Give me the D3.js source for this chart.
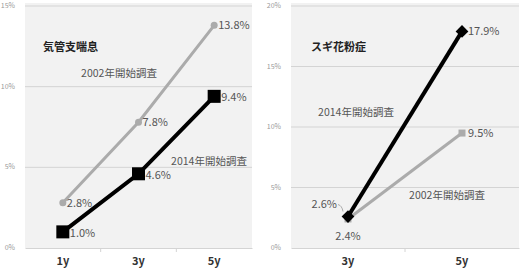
<!DOCTYPE html>
<html>
<head>
<meta charset="utf-8">
<script src="https://cdn.jsdelivr.net/npm/d3@7"></script>
<style>
  body { margin: 0; background: #fff; }
  svg { font-family: "Noto Sans CJK JP", "Noto Sans", sans-serif; }
</style>
</head>
<body>
<div id="chart"></div>
<script>
// data
const leftCats = ["1y", "3y", "5y"];
const leftGray = [2.8, 7.8, 13.8];   // 2002年開始調査
const leftBlack = [1.0, 4.6, 9.4];   // 2014年開始調査
const leftTicks = [0, 5, 10, 15];

const rightCats = ["3y", "5y"];
const rightGray = [2.4, 9.5];        // 2002年開始調査
const rightBlack = [2.6, 17.9];      // 2014年開始調査
const rightTicks = [0, 5, 10, 15, 20];

const svg = d3.select("#chart")
    .append("svg")
    .attr("width", 520)
    .attr("height", 271);

function panel(cfg) {
    const x = d3.scaleBand().domain(cfg.cats).range([cfg.x0, cfg.x1]);
    const y = d3.scaleLinear().domain([0, cfg.max]).range([248, 6]);
    const g = svg.append("g");

    // plot background
    g.append("rect")
        .attr("x", cfg.x0).attr("y", 3)
        .attr("width", cfg.x1 - cfg.x0).attr("height", 245)
        .attr("fill", "#f2f2f2");

    // gridlines
    g.selectAll(".grid").data(cfg.ticks.slice(1)).enter()
        .append("line")
        .attr("x1", cfg.x0).attr("x2", cfg.x1)
        .attr("y1", d => y(d)).attr("y2", d => y(d))
        .attr("stroke", "#d4d4d4").attr("stroke-width", 1);

    // y tick labels
    g.selectAll(".ytick").data(cfg.ticks).enter()
        .append("text")
        .attr("x", cfg.x0 - 10)
        .attr("y", d => y(d) + 2)
        .attr("text-anchor", "end")
        .attr("font-size", 7)
        .attr("fill", "#999")
        .text(d => d + "%");

    // x axis
    const ax = g.append("g")
        .attr("transform", "translate(0,248)")
        .call(d3.axisBottom(x).tickSize(0).tickPadding(9));
    ax.select(".domain").attr("stroke", "#d4d4d4");
    ax.selectAll("text")
        .attr("font-size", 11).attr("font-weight", "bold")
        .attr("fill", "#333")
        .attr("font-family", "'Noto Sans CJK JP', sans-serif");
    // separators between categories
    g.selectAll(".sep").data(cfg.cats.slice(1)).enter()
        .append("line")
        .attr("x1", d => x(d)).attr("x2", d => x(d))
        .attr("y1", 248).attr("y2", 252)
        .attr("stroke", "#d4d4d4");

    const cx = (d, i) => x(cfg.cats[i]) + x.bandwidth() / 2;
    const line = d3.line().x((d, i) => cx(d, i)).y(d => y(d));

    // gray series
    g.append("path").datum(cfg.gray)
        .attr("d", line).attr("fill", "none")
        .attr("stroke", "#ababab").attr("stroke-width", 3);
    // black series
    g.append("path").datum(cfg.black)
        .attr("d", line).attr("fill", "none")
        .attr("stroke", "#000").attr("stroke-width", 4);

    // markers
    if (cfg.grayShape === "circle") {
        g.selectAll(".gm").data(cfg.gray).enter().append("circle")
            .attr("cx", cx).attr("cy", d => y(d)).attr("r", 3.5)
            .attr("fill", "#ababab");
    } else {
        g.selectAll(".gm").data(cfg.gray).enter().append("rect")
            .attr("x", (d, i) => cx(d, i) - 3.5).attr("y", d => y(d) - 3.5)
            .attr("width", 7).attr("height", 7)
            .attr("fill", "#ababab");
    }
    if (cfg.blackShape === "square") {
        g.selectAll(".bm").data(cfg.black).enter().append("rect")
            .attr("x", (d, i) => cx(d, i) - 6.5).attr("y", d => y(d) - 6.5)
            .attr("width", 13).attr("height", 13)
            .attr("fill", "#000");
    } else {
        g.selectAll(".bm").data(cfg.black).enter().append("path")
            .attr("transform", (d, i) => "translate(" + cx(d, i) + "," + y(d) + ") rotate(45)")
            .attr("d", "M-4.5,-4.5H4.5V4.5H-4.5Z")
            .attr("fill", "#000");
    }

    // title
    g.append("text")
        .attr("x", cfg.titleX).attr("y", 51)
        .attr("font-size", 11).attr("font-weight", "bold")
        .attr("fill", "#222")
        .text(cfg.title);

    // series labels
    cfg.notes.forEach(n => {
        g.append("text")
            .attr("x", n.x).attr("y", n.y)
            .attr("text-anchor", "middle")
            .attr("font-size", 10.5).attr("fill", "#555")
            .text(n.t);
    });

    return {x: x, y: y, g: g, cx: cx};
}

function fmt(v) { return v.toFixed(1) + "%"; }

function addLabels(p, vals, offs) {
    p.g.selectAll(null).data(vals).enter().append("text")
        .attr("x", (d, i) => p.cx(d, i) + offs[i][0])
        .attr("y", (d, i) => p.y(d) + offs[i][1])
        .attr("font-size", 11).attr("fill", "#555")
        .text(fmt);
}

// left: 気管支喘息
const L = panel({
    cats: leftCats, x0: 25, x1: 252, max: 15, ticks: leftTicks,
    gray: leftGray, black: leftBlack,
    grayShape: "circle", blackShape: "square",
    title: "気管支喘息", titleX: 43,
    notes: [{t: "2002年開始調査", x: 119, y: 77}, {t: "2014年開始調査", x: 209, y: 165}]
});
addLabels(L, leftGray, [[4, 4], [4, 4], [4, 4]]);
addLabels(L, leftBlack, [[7, 5], [7, 5], [7, 5]]);

// right: スギ花粉症
const R = panel({
    cats: rightCats, x0: 291, x1: 519, max: 20, ticks: rightTicks,
    gray: rightGray, black: rightBlack,
    grayShape: "square", blackShape: "diamond",
    title: "スギ花粉症", titleX: 311,
    notes: [{t: "2014年開始調査", x: 356, y: 116}, {t: "2002年開始調査", x: 447, y: 199}]
});
// 5y labels
R.g.append("text").attr("x", R.cx(0, 1) + 6).attr("y", R.y(rightBlack[1]) + 4)
    .attr("font-size", 11).attr("fill", "#555").text(fmt(rightBlack[1]));
R.g.append("text").attr("x", R.cx(0, 1) + 6).attr("y", R.y(rightGray[1]) + 4)
    .attr("font-size", 11).attr("fill", "#555").text(fmt(rightGray[1]));
// 3y labels
R.g.append("text").attr("x", R.cx(0, 0) - 11).attr("y", R.y(rightBlack[0]) - 9)
    .attr("text-anchor", "end")
    .attr("font-size", 11).attr("fill", "#555").text(fmt(rightBlack[0]));
R.g.append("path")
    .attr("d", "M" + (R.cx(0, 0) - 10) + "," + (R.y(rightBlack[0]) - 12) +
        " q4,1 5,7")
    .attr("fill", "none").attr("stroke", "#999").attr("stroke-width", 0.8);
R.g.append("text").attr("x", R.cx(0, 0)).attr("y", R.y(rightGray[0]) + 21)
    .attr("text-anchor", "middle")
    .attr("font-size", 11).attr("fill", "#555").text(fmt(rightGray[0]));
</script>
</body>
</html>
